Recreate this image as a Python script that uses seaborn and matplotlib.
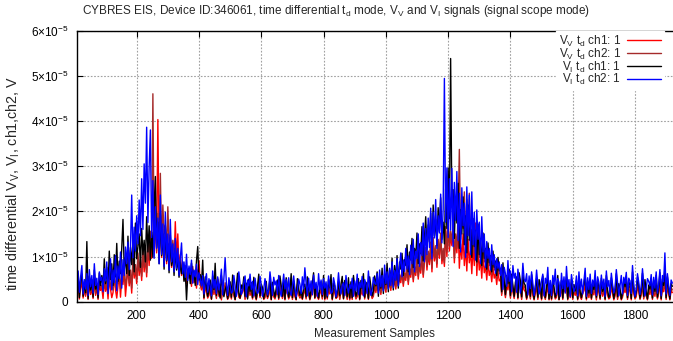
import numpy as np
import pandas as pd
import matplotlib
matplotlib.use("Agg")
import matplotlib.pyplot as plt
import seaborn as sns

# Scope capture: one value every 4th measurement sample, starting at sample 8.
FIRST_SAMPLE = 8
SAMPLE_STEP = 4
SCALE = 1e-7  # stored values are in units of 0.1 uV

# V_V t_d ch1
v_v_ch1 = [
    22, 38, 6, 30, 44, 8, 27, 12, 35, 5, 41, 16, 29, 7, 48, 14, 33, 5, 37, 25,
    31, 7, 46, 23, 39, 6, 52, 28, 9, 20, 58, 26, 8, 34, 62, 10, 49, 38, 70, 12,
    44, 76, 35, 60, 19, 88, 52, 70, 40, 96, 58, 84, 47, 110, 66, 98, 55, 124, 80, 132,
    96, 146, 118, 170, 108, 403, 126, 184, 98, 160, 112, 142, 84, 130, 96, 118, 76, 104, 88, 177,
    92, 150, 70, 104, 58, 86, 48, 78, 40, 66, 52, 60, 34, 72, 42, 55, 30, 64, 91, 38,
    26, 44, 6, 35, 22, 8, 14, 31, 5, 38, 16, 29, 7, 47, 12, 33, 4, 27, 15, 36,
    19, 5, 11, 26, 6, 39, 13, 4, 20, 33, 10, 7, 16, 22, 36, 5, 25, 8, 31, 14,
    23, 6, 34, 12, 4, 19, 41, 9, 25, 17, 5, 9, 24, 7, 14, 32, 4, 28, 11, 6,
    16, 29, 5, 35, 20, 7, 27, 4, 31, 18, 6, 13, 38, 5, 26, 11, 4, 33, 15, 8,
    13, 5, 19, 24, 6, 34, 16, 4, 14, 25, 40, 7, 21, 11, 5, 18, 26, 6, 35, 4,
    22, 6, 30, 17, 37, 4, 24, 20, 7, 10, 27, 5, 23, 34, 6, 28, 18, 5, 31, 4,
    26, 5, 35, 18, 6, 11, 31, 4, 28, 15, 38, 6, 25, 21, 5, 33, 19, 7, 12, 36,
    20, 40, 24, 34, 16, 46, 27, 38, 21, 52, 30, 42, 25, 58, 33, 48, 28, 62, 35, 54,
    42, 66, 34, 58, 47, 78, 38, 68, 54, 86, 44, 72, 58, 94, 50, 80, 63, 104, 54, 88,
    112, 70, 104, 82, 122, 66, 132, 90, 114, 76, 128, 96, 142, 84, 108, 78, 156, 100, 170, 112,
    146, 124, 160, 86, 140, 108, 168, 74, 128, 94, 150, 80, 122, 68, 138, 86, 112, 62, 124, 80,
    174, 58, 116, 70, 94, 52, 104, 64, 80, 48, 88, 58, 70, 44, 76, 52, 62, 38, 68, 46,
    50, 14, 58, 30, 9, 38, 26, 48, 8, 40, 22, 7, 28, 36, 6, 42, 30, 5, 38, 26,
    22, 5, 17, 30, 6, 38, 14, 4, 20, 33, 5, 31, 23, 4, 36, 15, 5, 21, 32, 4,
    25, 4, 32, 19, 6, 10, 36, 4, 16, 30, 5, 27, 22, 34, 4, 26, 9, 31, 5, 24,
    14, 29, 4, 33, 11, 5, 18, 24, 37, 4, 28, 9, 31, 5, 25, 15, 35, 4, 29, 21,
    5, 32, 12, 26, 4, 36, 14, 6, 9, 33, 18, 4, 13, 39, 5, 25, 17, 4, 10, 29,
    20, 35, 5, 27, 24, 4, 41, 18, 6, 11, 34, 22, 5, 14, 39, 6, 31, 12, 4, 23,
    16, 33, 5, 29, 12, 36, 6, 18, 40, 4, 31, 22, 46, 5, 34, 17, 4, 25, 20,
]

# V_V t_d ch2
v_v_ch2 = [
    28, 46, 19, 37, 52, 24, 33, 16, 41, 26, 49, 21, 35, 30, 56, 18, 39, 23, 44, 31,
    37, 22, 54, 29, 46, 18, 60, 34, 43, 26, 66, 32, 50, 40, 72, 28, 57, 45, 78, 36,
    52, 86, 41, 70, 30, 98, 60, 82, 48, 108, 68, 94, 56, 124, 76, 112, 64, 140, 92, 156,
    118, 460, 130, 232, 112, 196, 138, 284, 120, 214, 150, 170, 104, 210, 126, 148, 96, 136, 110, 124,
    86, 114, 70, 98, 62, 88, 54, 80, 46, 72, 58, 66, 40, 78, 48, 61, 36, 70, 52, 44,
    31, 50, 9, 41, 27, 11, 19, 37, 7, 44, 21, 35, 10, 53, 17, 39, 8, 32, 20, 42,
    24, 8, 15, 31, 9, 45, 17, 7, 25, 39, 14, 10, 21, 27, 42, 8, 30, 12, 37, 18,
    28, 9, 40, 16, 7, 24, 47, 12, 30, 22, 8, 13, 29, 10, 18, 38, 7, 33, 15, 9,
    21, 35, 8, 41, 25, 10, 32, 7, 37, 23, 9, 17, 44, 8, 31, 15, 7, 39, 19, 11,
    17, 8, 24, 29, 9, 40, 21, 7, 18, 30, 46, 10, 26, 15, 8, 23, 31, 9, 41, 7,
    27, 9, 36, 22, 43, 7, 29, 25, 10, 14, 32, 8, 28, 40, 9, 34, 23, 8, 37, 7,
    31, 8, 41, 23, 9, 15, 37, 7, 33, 19, 44, 9, 30, 26, 8, 39, 24, 10, 16, 42,
    25, 46, 29, 40, 20, 52, 32, 44, 26, 58, 36, 48, 30, 64, 39, 54, 33, 68, 41, 60,
    48, 72, 40, 64, 53, 84, 44, 74, 60, 92, 50, 78, 64, 100, 56, 86, 70, 112, 60, 96,
    120, 78, 112, 90, 132, 74, 142, 98, 124, 84, 138, 104, 152, 92, 118, 86, 166, 110, 180, 122,
    156, 134, 172, 96, 150, 118, 196, 337, 138, 180, 162, 243, 130, 226, 148, 240, 120, 160, 132, 108,
    126, 84, 136, 98, 114, 76, 122, 88, 100, 68, 106, 80, 86, 60, 92, 70, 76, 52, 82, 62,
    64, 18, 72, 40, 13, 50, 34, 60, 11, 52, 30, 10, 36, 46, 9, 54, 38, 8, 48, 34,
    29, 8, 23, 38, 9, 47, 19, 7, 27, 42, 8, 39, 30, 7, 45, 20, 8, 28, 40, 7,
    32, 7, 40, 25, 9, 14, 45, 7, 22, 38, 8, 35, 29, 43, 7, 33, 13, 39, 8, 31,
    19, 37, 7, 42, 15, 8, 24, 31, 46, 7, 36, 13, 40, 8, 32, 20, 44, 7, 37, 28,
    8, 40, 17, 33, 7, 45, 19, 9, 13, 42, 24, 7, 18, 48, 8, 32, 23, 7, 14, 37,
    26, 44, 8, 35, 31, 7, 51, 24, 9, 15, 43, 29, 8, 19, 48, 9, 39, 17, 7, 30,
    21, 42, 8, 37, 17, 45, 9, 24, 50, 7, 39, 29, 56, 8, 43, 22, 7, 32, 26,
]

# V_I t_d ch1
v_i_ch1 = [
    30, 52, 9, 47, 61, 12, 44, 20, 133, 7, 57, 26, 49, 10, 70, 28, 41, 8, 63, 36,
    58, 31, 95, 40, 76, 27, 112, 49, 84, 36, 104, 55, 129, 45, 90, 62, 118, 182, 70, 98,
    62, 145, 58, 120, 82, 138, 66, 174, 95, 122, 150, 76, 162, 104, 136, 88, 188, 110, 168, 92,
    154, 98, 212, 277, 120, 176, 84, 196, 102, 150, 72, 168, 90, 128, 64, 142, 80, 108, 58, 118,
    70, 96, 54, 88, 62, 78, 45, 66, 4, 58, 74, 40, 85, 52, 68, 36, 90, 122, 48, 60,
    38, 92, 9, 55, 34, 12, 25, 48, 6, 57, 27, 85, 14, 50, 22, 8, 58, 30, 11, 26,
    35, 7, 21, 44, 10, 59, 26, 5, 33, 63, 19, 8, 37, 28, 55, 12, 41, 6, 50, 23,
    42, 9, 54, 22, 6, 35, 61, 13, 39, 31, 7, 20, 45, 11, 28, 52, 5, 43, 25, 10,
    30, 48, 8, 57, 36, 12, 44, 6, 53, 34, 10, 26, 62, 9, 46, 23, 5, 51, 29, 14,
    25, 7, 33, 39, 11, 55, 30, 6, 27, 42, 64, 9, 37, 22, 8, 35, 44, 12, 58, 7,
    38, 10, 49, 31, 60, 6, 41, 35, 9, 21, 45, 13, 39, 56, 7, 47, 33, 11, 53, 8,
    44, 9, 58, 33, 12, 22, 51, 6, 47, 29, 62, 10, 43, 38, 7, 55, 34, 13, 23, 57,
    35, 66, 12, 58, 30, 74, 18, 62, 38, 85, 22, 70, 44, 96, 26, 80, 49, 102, 30, 88,
    72, 107, 58, 94, 80, 126, 66, 110, 92, 140, 75, 118, 99, 152, 84, 128, 106, 166, 90, 142,
    188, 116, 170, 132, 196, 108, 214, 146, 182, 124, 208, 155, 230, 138, 176, 128, 250, 162, 296, 184,
    538, 210, 248, 140, 226, 174, 262, 118, 204, 150, 232, 126, 190, 108, 214, 136, 170, 98, 184, 122,
    158, 88, 172, 104, 140, 80, 152, 96, 118, 72, 130, 86, 102, 66, 112, 76, 90, 58, 98, 68,
    74, 22, 86, 45, 16, 58, 40, 72, 14, 61, 35, 12, 43, 55, 9, 64, 46, 11, 59, 41,
    36, 8, 28, 47, 12, 60, 25, 6, 33, 52, 10, 49, 37, 7, 57, 26, 9, 35, 50, 6,
    40, 7, 51, 32, 10, 20, 58, 5, 29, 48, 8, 43, 36, 55, 6, 41, 18, 50, 9, 38,
    24, 47, 6, 53, 21, 9, 30, 38, 60, 7, 44, 19, 50, 8, 39, 27, 56, 10, 46, 34,
    8, 52, 23, 41, 6, 58, 26, 9, 18, 53, 30, 7, 24, 62, 11, 40, 29, 6, 20, 46,
    33, 57, 9, 44, 38, 7, 66, 30, 10, 21, 54, 35, 8, 26, 63, 12, 49, 23, 6, 37,
    28, 52, 8, 46, 23, 58, 10, 30, 64, 7, 50, 36, 74, 9, 55, 29, 6, 40, 34,
]

# V_I t_d ch2
v_i_ch2 = [
    42, 68, 21, 55, 80, 17, 49, 28, 62, 14, 71, 33, 58, 19, 84, 36, 52, 16, 66, 47,
    54, 22, 73, 46, 88, 18, 61, 95, 26, 70, 42, 102, 24, 79, 51, 110, 30, 93, 58, 121,
    84, 132, 71, 118, 236, 97, 165, 112, 190, 128, 225, 146, 272, 160, 305, 218, 386, 175, 298, 380,
    142, 268, 96, 210, 118, 185, 84, 236, 105, 172, 78, 198, 92, 150, 70, 182, 88, 128, 66, 140,
    74, 118, 58, 96, 130, 62, 88, 54, 105, 47, 79, 60, 92, 41, 70, 55, 83, 38, 64, 49,
    35, 58, 17, 46, 62, 21, 51, 34, 13, 68, 30, 49, 18, 55, 26, 44, 72, 15, 52, 97,
    41, 14, 53, 36, 19, 22, 58, 34, 12, 29, 66, 38, 16, 25, 43, 57, 11, 48, 35, 61,
    27, 45, 13, 52, 30, 18, 24, 56, 36, 12, 28, 51, 33, 15, 26, 66, 40, 14, 54, 37,
    46, 16, 58, 25, 12, 35, 61, 28, 49, 17, 53, 23, 14, 33, 57, 30, 11, 26, 50, 39,
    18, 55, 28, 75, 41, 13, 52, 24, 46, 15, 59, 29, 43, 12, 62, 27, 48, 16, 51, 30,
    44, 13, 57, 34, 18, 22, 53, 39, 11, 28, 64, 31, 17, 36, 42, 14, 58, 33, 19, 38,
    29, 52, 12, 46, 24, 61, 16, 43, 31, 56, 13, 49, 40, 18, 68, 30, 14, 26, 54, 41,
    38, 62, 19, 70, 33, 58, 24, 81, 40, 66, 28, 74, 36, 88, 31, 69, 47, 95, 35, 78,
    108, 55, 92, 67, 118, 72, 101, 60, 125, 84, 138, 66, 112, 95, 150, 78, 131, 102, 174, 88,
    162, 104, 185, 120, 207, 95, 198, 141, 226, 118, 190, 152, 238, 130, 205, 494, 176, 296, 142, 272,
    158, 295, 122, 264, 180, 288, 135, 240, 110, 252, 168, 218, 98, 254, 146, 236, 104, 243, 126, 198,
    92, 203, 138, 176, 84, 188, 110, 150, 76, 133, 96, 118, 70, 126, 82, 104, 63, 95, 74, 88,
    58, 82, 27, 76, 62, 34, 91, 45, 68, 22, 80, 52, 63, 21, 72, 48, 19, 36, 85, 50,
    44, 62, 15, 57, 29, 66, 41, 14, 33, 70, 38, 17, 27, 48, 61, 13, 52, 40, 76, 18,
    47, 14, 58, 38, 72, 16, 51, 43, 12, 63, 29, 55, 19, 78, 33, 49, 11, 60, 39, 22,
    31, 57, 13, 66, 28, 50, 17, 45, 74, 12, 53, 27, 61, 18, 48, 34, 69, 14, 55, 43,
    16, 59, 29, 50, 12, 68, 33, 47, 15, 63, 38, 19, 30, 71, 42, 13, 35, 58, 17, 54,
    40, 65, 14, 52, 46, 18, 80, 37, 12, 28, 62, 43, 16, 33, 73, 39, 13, 30, 51, 45,
    35, 60, 15, 54, 30, 66, 19, 38, 71, 13, 58, 44, 108, 17, 62, 36, 14, 48, 41,
]

series_labels = [
    r"V$_\mathregular{V}$ t$_\mathregular{d}$ ch1: 1",
    r"V$_\mathregular{V}$ t$_\mathregular{d}$ ch2: 1",
    r"V$_\mathregular{I}$ t$_\mathregular{d}$ ch1: 1",
    r"V$_\mathregular{I}$ t$_\mathregular{d}$ ch2: 1",
]
series_values = [v_v_ch1, v_v_ch2, v_i_ch1, v_i_ch2]
series_colors = ["#ff0000", "#a52a2a", "#000000", "#0000ff"]

x_ticks = [200, 400, 600, 800, 1000, 1200, 1400, 1600, 1800]
y_ticks = [0, 1e-5, 2e-5, 3e-5, 4e-5, 5e-5, 6e-5]
y_tick_labels = ["0"] + [rf"{k}×10$^{{\mathregular{{-5}}}}$" for k in range(1, 7)]

sns.set_style("white")
plt.rcParams["font.family"] = ["Liberation Sans", "DejaVu Sans"]
plt.rcParams["mathtext.fontset"] = "custom"
plt.rcParams["mathtext.rm"] = "Liberation Sans"
plt.rcParams["mathtext.it"] = "Liberation Sans:italic"
plt.rcParams["mathtext.bf"] = "Liberation Sans:bold"

W, H = 673, 341
fig = plt.figure(figsize=(W / 100, H / 100), dpi=100)
ax_l, ax_r, ax_t, ax_b = 76.7, 673.0, 30.5, 301.7
ax = fig.add_axes([ax_l / W, 1 - ax_b / H, (ax_r - ax_l) / W, (ax_b - ax_t) / H])

frames = []
for label, vals in zip(series_labels, series_values):
    n = len(vals)
    frames.append(pd.DataFrame({
        "sample": FIRST_SAMPLE + SAMPLE_STEP * np.arange(n),
        "value": np.asarray(vals, dtype=float) * SCALE,
        "series": label,
    }))
data = pd.concat(frames, ignore_index=True)

for label, color in zip(series_labels, series_colors):
    sns.lineplot(data=data[data["series"] == label], x="sample", y="value",
                 color=color, linewidth=1.0, label=label, ax=ax,
                 estimator=None, sort=False)

ax.set_xlim(7.4, 1922)
ax.set_ylim(0, 6e-5)
ax.set_xticks(x_ticks)
ax.set_xticklabels([str(t) for t in x_ticks])
ax.set_yticks(y_ticks)
ax.set_yticklabels(y_tick_labels)
ax.tick_params(axis="both", direction="in", length=4, width=0.8,
               labelsize=8.5, colors="black", pad=6)
ax.tick_params(axis="x", top=True)
ax.tick_params(axis="y", left=True, right=False)

ax.grid(True, color="#a0a0a0", linestyle=(0, (1.5, 1.5)), linewidth=0.8)
ax.set_axisbelow(True)
for side in ["left", "bottom", "top"]:
    ax.spines[side].set_color("black")
    ax.spines[side].set_linewidth(1.0)
ax.spines["right"].set_visible(False)

ax.set_xlabel("Measurement Samples", fontsize=8.5, labelpad=4)
ax.set_ylabel(r"time differential V$_\mathregular{V}$, V$_\mathregular{I}$, ch1,ch2, V",
              fontsize=10.3)
ax.yaxis.set_label_coords((22 - ax_l) / (ax_r - ax_l), (ax_b - 183) / (ax_b - ax_t))
fig.text(0.5, 1 - 11 / H,
         r"CYBRES EIS, Device ID:346061, time differential t$_\mathregular{d}$ mode, "
         r"V$_\mathregular{V}$ and V$_\mathregular{I}$ signals (signal scope mode)",
         ha="center", va="center", fontsize=8.5)

leg = ax.legend(loc="upper right", bbox_to_anchor=(0.985, 1.0), markerfirst=False,
                frameon=True, fancybox=False, framealpha=1.0, edgecolor="white",
                facecolor="white", fontsize=8.5, handlelength=2.9, handletextpad=0.5,
                labelspacing=-0.18, borderpad=0.25, borderaxespad=0)
for t in leg.get_texts():
    t.set_ha("right")

fig.savefig("out.png", dpi=100)
